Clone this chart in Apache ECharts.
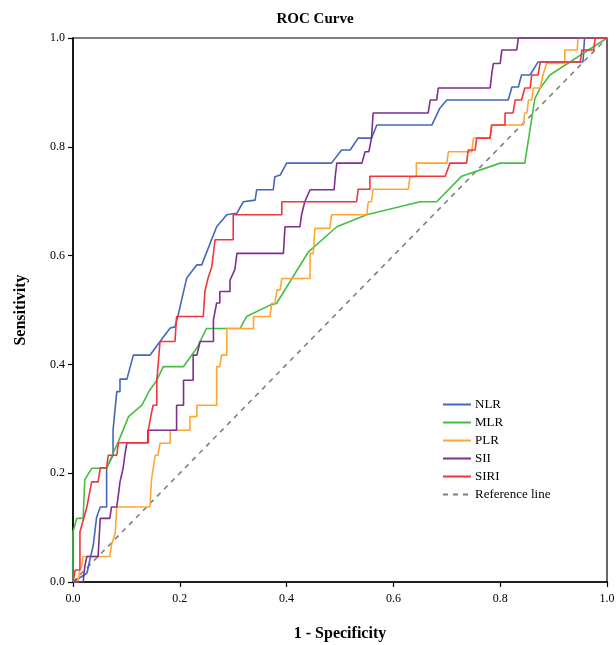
<!DOCTYPE html>
<html>
<head>
<meta charset="utf-8">
<script src="https://cdn.jsdelivr.net/npm/echarts@6/dist/echarts.min.js"></script>
<style>
  html, body { margin: 0; padding: 0; background: #fff; }
  #chart { width: 616px; height: 645px; }
</style>
</head>
<body>
<div id="chart"></div>
<script>
// [1 - specificity, sensitivity] pairs
const nlrPoints = [
  [0, 0], [0.026, 0.016], [0.038, 0.068], [0.044, 0.118], [0.051, 0.138], [0.063, 0.138],
  [0.063, 0.21], [0.075, 0.233], [0.075, 0.279], [0.082, 0.35], [0.088, 0.35], [0.088, 0.373],
  [0.101, 0.373], [0.113, 0.417], [0.144, 0.417], [0.163, 0.442], [0.182, 0.467], [0.191, 0.469],
  [0.197, 0.491], [0.213, 0.559], [0.232, 0.583], [0.241, 0.583], [0.269, 0.653], [0.288, 0.675],
  [0.307, 0.678], [0.319, 0.699], [0.341, 0.702], [0.344, 0.721], [0.375, 0.721], [0.378, 0.745],
  [0.388, 0.748], [0.4, 0.77], [0.484, 0.77], [0.503, 0.794], [0.519, 0.794], [0.534, 0.816],
  [0.559, 0.816], [0.569, 0.84], [0.672, 0.84], [0.687, 0.871], [0.7, 0.886], [0.815, 0.886],
  [0.822, 0.91], [0.834, 0.91], [0.84, 0.932], [0.856, 0.932], [0.871, 0.956], [0.955, 0.956],
  [0.958, 1], [1, 1]
];
const mlrPoints = [
  [0, 0], [0, 0.092], [0.007, 0.117], [0.019, 0.117], [0.022, 0.188], [0.035, 0.209],
  [0.063, 0.209], [0.072, 0.23], [0.085, 0.258], [0.104, 0.304], [0.129, 0.325], [0.144, 0.353],
  [0.157, 0.371], [0.169, 0.396], [0.207, 0.396], [0.232, 0.43], [0.25, 0.466], [0.313, 0.466],
  [0.325, 0.488], [0.369, 0.509], [0.381, 0.512], [0.441, 0.607], [0.494, 0.653], [0.55, 0.675],
  [0.65, 0.699], [0.681, 0.699], [0.728, 0.746], [0.8, 0.77], [0.846, 0.77], [0.865, 0.889],
  [0.875, 0.908], [0.893, 0.932], [1, 1]
];
const plrPoints = [
  [0, 0], [0.009, 0], [0.013, 0.022], [0.016, 0.028], [0.019, 0.047], [0.069, 0.047],
  [0.072, 0.068], [0.079, 0.09], [0.082, 0.138], [0.144, 0.138], [0.147, 0.188], [0.154, 0.233],
  [0.159, 0.233], [0.163, 0.255], [0.182, 0.255], [0.182, 0.279], [0.219, 0.279], [0.219, 0.304],
  [0.232, 0.304], [0.232, 0.325], [0.269, 0.325], [0.269, 0.396], [0.275, 0.396], [0.278, 0.417],
  [0.288, 0.417], [0.288, 0.466], [0.338, 0.466], [0.338, 0.488], [0.369, 0.488], [0.372, 0.512],
  [0.378, 0.512], [0.382, 0.537], [0.388, 0.537], [0.391, 0.558], [0.444, 0.558], [0.444, 0.604],
  [0.45, 0.604], [0.453, 0.65], [0.481, 0.65], [0.484, 0.675], [0.55, 0.675], [0.553, 0.699],
  [0.559, 0.699], [0.562, 0.722], [0.628, 0.722], [0.631, 0.745], [0.643, 0.745], [0.643, 0.77],
  [0.7, 0.77], [0.703, 0.791], [0.747, 0.791], [0.75, 0.816], [0.781, 0.816], [0.784, 0.84],
  [0.843, 0.84], [0.846, 0.862], [0.85, 0.862], [0.853, 0.886], [0.859, 0.886], [0.862, 0.908],
  [0.875, 0.908], [0.88, 0.932], [0.887, 0.953], [0.921, 0.953], [0.921, 0.978], [0.944, 0.978],
  [0.946, 1], [1, 1]
];
const siiPoints = [
  [0, 0], [0.019, 0], [0.022, 0.028], [0.026, 0.047], [0.047, 0.047], [0.051, 0.117],
  [0.069, 0.117], [0.072, 0.138], [0.082, 0.138], [0.085, 0.16], [0.088, 0.184], [0.094, 0.21],
  [0.097, 0.233], [0.101, 0.256], [0.14, 0.256], [0.14, 0.279], [0.194, 0.279], [0.194, 0.325],
  [0.207, 0.325], [0.207, 0.371], [0.225, 0.371], [0.225, 0.417], [0.232, 0.417], [0.238, 0.442],
  [0.263, 0.442], [0.263, 0.482], [0.269, 0.513], [0.275, 0.513], [0.275, 0.534], [0.294, 0.534],
  [0.294, 0.555], [0.303, 0.574], [0.307, 0.604], [0.394, 0.604], [0.397, 0.653], [0.425, 0.653],
  [0.428, 0.675], [0.434, 0.699], [0.444, 0.721], [0.489, 0.721], [0.491, 0.745], [0.494, 0.77],
  [0.541, 0.77], [0.547, 0.791], [0.554, 0.791], [0.559, 0.816], [0.562, 0.862], [0.665, 0.862],
  [0.669, 0.886], [0.681, 0.886], [0.684, 0.908], [0.781, 0.908], [0.784, 0.932], [0.787, 0.953],
  [0.8, 0.953], [0.803, 0.978], [0.831, 0.978], [0.834, 1], [1, 1]
];
const siriPoints = [
  [0, 0], [0.004, 0.022], [0.013, 0.022], [0.013, 0.092], [0.016, 0.092], [0.026, 0.138],
  [0.035, 0.184], [0.047, 0.184], [0.051, 0.21], [0.063, 0.21], [0.066, 0.233], [0.082, 0.233],
  [0.085, 0.256], [0.141, 0.256], [0.141, 0.279], [0.147, 0.311], [0.15, 0.325], [0.157, 0.325],
  [0.157, 0.371], [0.163, 0.442], [0.191, 0.442], [0.194, 0.488], [0.244, 0.488], [0.247, 0.534],
  [0.253, 0.559], [0.26, 0.58], [0.266, 0.629], [0.3, 0.629], [0.3, 0.675], [0.391, 0.675],
  [0.391, 0.699], [0.531, 0.699], [0.534, 0.722], [0.556, 0.722], [0.556, 0.746], [0.697, 0.746],
  [0.706, 0.77], [0.737, 0.77], [0.74, 0.794], [0.753, 0.794], [0.756, 0.816], [0.781, 0.816],
  [0.784, 0.84], [0.809, 0.84], [0.809, 0.862], [0.824, 0.862], [0.828, 0.886], [0.84, 0.886],
  [0.846, 0.908], [0.856, 0.908], [0.859, 0.932], [0.871, 0.932], [0.875, 0.956], [0.95, 0.956],
  [0.953, 0.978], [0.975, 0.978], [0.978, 1], [1, 1]
];
const referencePoints = [[0, 0], [1, 1]];

const seriesNames = ["NLR", "MLR", "PLR", "SII", "SIRI", "Reference line"];
const seriesColors = ["#4466bb", "#44bf44", "#ffa632", "#7d2f8b", "#f2343d", "#808080"];
const seriesData = [nlrPoints, mlrPoints, plrPoints, siiPoints, siriPoints, referencePoints];

const serif = "Liberation Serif";
const chart = echarts.init(document.getElementById("chart"));

const series = seriesNames.map((name, i) => ({
  name: name,
  type: "line",
  data: seriesData[i],
  symbol: "none",
  animation: false,
  z: name === "Reference line" ? 1 : 2,
  lineStyle: {
    color: seriesColors[i],
    width: 1.6,
    type: name === "Reference line" ? [5, 5] : "solid"
  },
  itemStyle: { color: seriesColors[i] }
}));

const axisCommon = {
  type: "value",
  min: 0,
  max: 1,
  interval: 0.2,
  nameLocation: "middle",
  nameTextStyle: { fontFamily: serif, fontWeight: "bold", fontSize: 16, color: "#000" },
  axisLine: { show: true, lineStyle: { color: "#000", width: 1.5 } },
  axisTick: { show: true, length: 5, lineStyle: { color: "#000", width: 1.2 } },
  axisLabel: {
    fontFamily: serif,
    fontSize: 12,
    color: "#000",
    formatter: (v) => v.toFixed(1)
  },
  splitLine: { show: false }
};

chart.setOption({
  backgroundColor: "#fff",
  title: {
    text: "ROC Curve",
    left: 310,
    top: 7,
    textAlign: "center",
    textStyle: { fontFamily: serif, fontWeight: "bold", fontSize: 15, color: "#000" }
  },
  grid: {
    left: 73,
    right: 9,
    top: 38,
    bottom: 63,
    outerBoundsMode: "none",
    show: true,
    borderColor: "#000",
    borderWidth: 1.2
  },
  legend: {
    orient: "vertical",
    left: 437,
    top: 393,
    itemWidth: 28,
    itemHeight: 8,
    itemGap: 5,
    data: seriesNames,
    itemStyle: { opacity: 0 },
    textStyle: { fontFamily: serif, fontSize: 13, color: "#000", padding: [0, 0, 0, -1] }
  },
  xAxis: Object.assign({}, axisCommon, {
    name: "1 - Specificity",
    nameGap: 44,
    axisLabel: Object.assign({}, axisCommon.axisLabel, { margin: 11 })
  }),
  yAxis: Object.assign({}, axisCommon, { name: "Sensitivity", nameGap: 44 }),
  series: series
});
</script>
</body>
</html>
